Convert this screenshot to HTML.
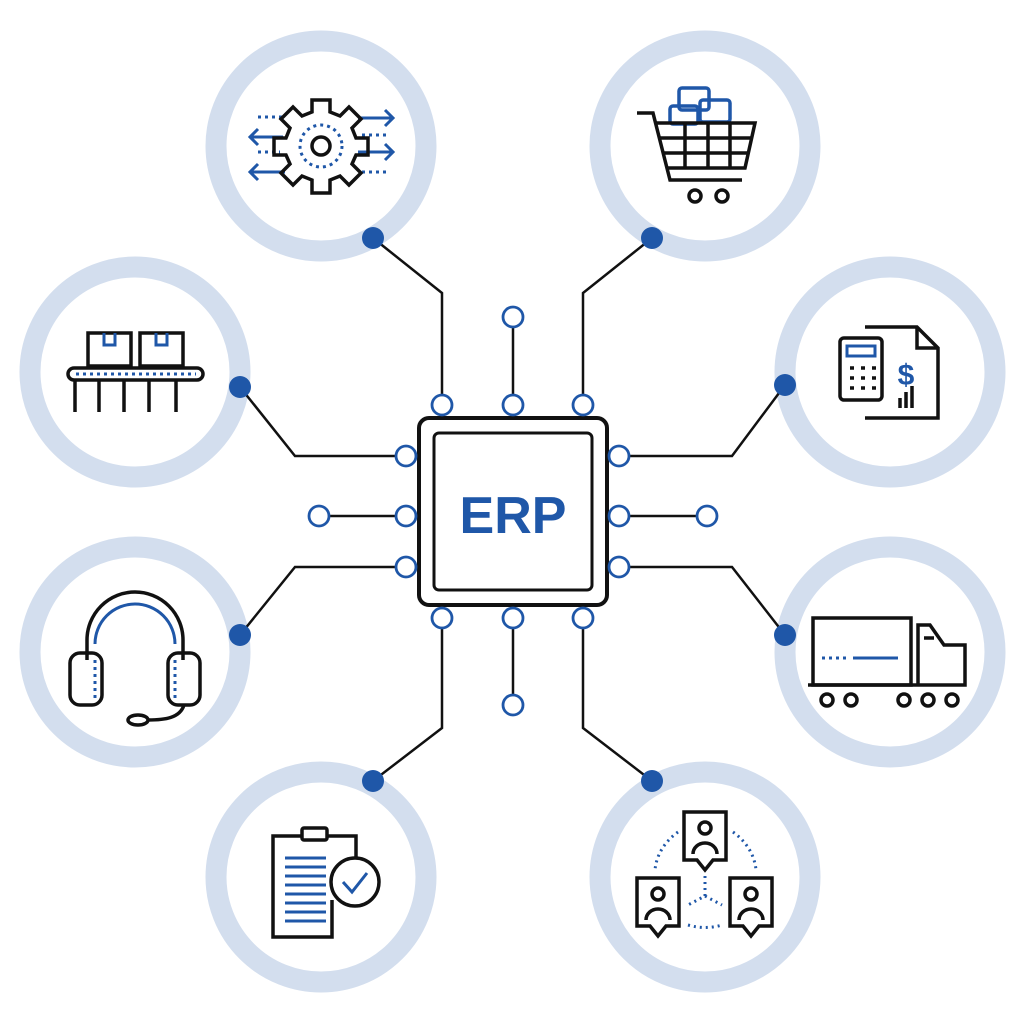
<!DOCTYPE html>
<html><head><meta charset="utf-8"><style>html,body{margin:0;padding:0;background:#fff}svg{display:block}</style></head>
<body>
<svg width="1024" height="1024" viewBox="0 0 1024 1024" xmlns="http://www.w3.org/2000/svg">
<g fill="none" stroke="#d3deee" stroke-width="21">
<circle cx="321" cy="146" r="105"/><circle cx="705" cy="146" r="105"/>
<circle cx="135" cy="372" r="105"/><circle cx="890" cy="372" r="105"/>
<circle cx="135" cy="652" r="105"/><circle cx="890" cy="652" r="105"/>
<circle cx="321" cy="877" r="105"/><circle cx="705" cy="877" r="105"/>
</g>
<g fill="none" stroke="#111" stroke-width="2.5">
<polyline points="442,405 442,293 373,238"/><polyline points="583,405 583,293 652,238"/>
<polyline points="406,456 295,456 240,387"/><polyline points="406,567 295,567 240,635"/>
<polyline points="619,456 732,456 785,385"/><polyline points="619,567 732,567 785,635"/>
<polyline points="442,618 442,728 373,781"/><polyline points="583,618 583,728 652,781"/>
<line x1="513" y1="317" x2="513" y2="405"/><line x1="513" y1="618" x2="513" y2="705"/>
<line x1="319" y1="516" x2="406" y2="516"/><line x1="619" y1="516" x2="707" y2="516"/>
</g>
<g fill="#1f57a8">
<circle cx="373" cy="238" r="11"/><circle cx="652" cy="238" r="11"/>
<circle cx="240" cy="387" r="11"/><circle cx="240" cy="635" r="11"/>
<circle cx="785" cy="385" r="11"/><circle cx="785" cy="635" r="11"/>
<circle cx="373" cy="781" r="11"/><circle cx="652" cy="781" r="11"/>
</g>
<rect x="419" y="418" width="188" height="187" rx="10" fill="#fff" stroke="#111" stroke-width="4"/>
<rect x="434" y="433" width="158" height="157" rx="5" fill="#fff" stroke="#111" stroke-width="3"/>
<text x="513" y="533" text-anchor="middle" font-family="Liberation Sans, sans-serif" font-weight="bold" font-size="52" fill="#1f57a8">ERP</text>
<g fill="#fff" stroke="#1f57a8" stroke-width="2.8">
<circle cx="442" cy="405" r="10"/><circle cx="513" cy="405" r="10"/><circle cx="583" cy="405" r="10"/>
<circle cx="442" cy="618" r="10"/><circle cx="513" cy="618" r="10"/><circle cx="583" cy="618" r="10"/>
<circle cx="406" cy="456" r="10"/><circle cx="406" cy="516" r="10"/><circle cx="406" cy="567" r="10"/>
<circle cx="619" cy="456" r="10"/><circle cx="619" cy="516" r="10"/><circle cx="619" cy="567" r="10"/>
<circle cx="513" cy="317" r="10"/><circle cx="513" cy="705" r="10"/>
<circle cx="319" cy="516" r="10"/><circle cx="707" cy="516" r="10"/>
</g>
<!-- gear -->
<g stroke="#1f57a8" stroke-width="3" fill="none">
<path d="M250,137 H283 M258,129 L250,137 L258,145"/><path d="M250,172 H285 M258,164 L250,172 L258,180"/>
<path d="M358,118 H393 M385,110 L393,118 L385,126"/><path d="M358,152 H393 M385,144 L393,152 L385,160"/>
<path d="M258,117 H282 M258,152 H280 M362,135 H390 M362,172 H390" stroke-dasharray="3,4"/>
<circle cx="321" cy="146" r="21" stroke-dasharray="3,4"/>
</g>
<g stroke="#111" stroke-width="3.5" fill="#fff" fill-opacity="0">
<path d="M312,100 H330 V112 L340,116 L349,107 L361,119 L352,128 L356,138 H368 V155 H356 L352,164 L361,173 L349,185 L340,176 L330,180 V193 H312 V180 L302,176 L293,185 L281,173 L290,164 L286,155 H274 V138 H286 L290,128 L281,119 L293,107 L302,116 L312,112 Z"/>
<circle cx="321" cy="146" r="9"/>
</g>
<!-- cart -->
<g fill="none" stroke="#1f57a8" stroke-width="3.5">
<rect x="679" y="88" width="30" height="22" rx="3"/><rect x="700" y="100" width="30" height="22" rx="3"/><rect x="670" y="106" width="28" height="18" rx="3"/>
</g>
<g fill="none" stroke="#111" stroke-width="3.5">
<path d="M637,113 H653 L670,180 H742"/><path d="M656,123 H755 L745,168 H667"/>
<path d="M660,138 H752 M663,153 H749 M685,123 V168 M708,123 V168 M730,123 V168"/>
<circle cx="695" cy="196" r="6"/><circle cx="722" cy="196" r="6"/>
</g>
<!-- conveyor -->
<g fill="none" stroke="#111" stroke-width="3.5">
<rect x="88" y="333" width="43" height="33"/><rect x="140" y="333" width="43" height="33"/>
<rect x="68" y="368" width="135" height="12" rx="6"/>
<path d="M75,380 V412 M99,380 V412 M124,380 V412 M149,380 V412 M176,380 V412"/>
</g>
<g fill="none" stroke="#1f57a8" stroke-width="3"><path d="M104,333 V345 H115 V333 M156,333 V345 H167 V333"/><path d="M76,374 H196" stroke-dasharray="3,4"/></g>
<!-- invoice -->
<g fill="none" stroke="#111" stroke-width="3.5">
<path d="M865,327 H917 L938,348 V418 H865"/><path d="M917,327 V348 H938"/>
<rect x="840" y="338" width="42" height="62" rx="4"/>
<path d="M850,368h4M861,368h4M872,368h4M850,378h4M861,378h4M872,378h4M850,388h4M861,388h4M872,388h4"/>
<path d="M900,408V398M906,408V392M912,408V386"/>
</g>
<rect x="847" y="346" width="28" height="10" fill="none" stroke="#1f57a8" stroke-width="3"/>
<text x="906" y="385" text-anchor="middle" font-family="Liberation Sans, sans-serif" font-weight="bold" font-size="30" fill="#1f57a8">$</text>
<!-- headset -->
<g fill="none" stroke="#111" stroke-width="3.5">
<path d="M87,660 V640 A48,48 0 0 1 183,640 V660"/>
<rect x="70" y="653" width="32" height="52" rx="10"/><rect x="168" y="653" width="32" height="52" rx="10"/>
<path d="M184,705 C180,718 165,720 148,720"/><ellipse cx="138" cy="720" rx="10" ry="5"/>
</g>
<g fill="none" stroke="#1f57a8" stroke-width="3"><path d="M95,644 A40,40 0 0 1 175,644"/><path d="M95,660 V700 M175,660 V700" stroke-dasharray="3,4"/></g>
<!-- truck -->
<g fill="none" stroke="#111" stroke-width="3.5">
<rect x="813" y="618" width="98" height="67"/><path d="M918,685 V625 H930 L944,645 H965 V685 H808"/><path d="M924,638 H934"/>
<circle cx="827" cy="700" r="6"/><circle cx="851" cy="700" r="6"/><circle cx="904" cy="700" r="6"/><circle cx="928" cy="700" r="6"/><circle cx="952" cy="700" r="6"/>
</g>
<g stroke="#1f57a8" stroke-width="3"><path d="M822,658 H848" stroke-dasharray="3,4"/><path d="M853,658 H898"/></g>
<!-- clipboard -->
<g fill="none" stroke="#111" stroke-width="3.5">
<path d="M332,900 V937 H273 V836 H356 V858"/><rect x="302" y="828" width="25" height="12" rx="2" fill="#fff"/>
<circle cx="355" cy="882" r="24"/>
</g>
<g stroke="#1f57a8" stroke-width="3" fill="none">
<path d="M285,858h41M285,867h41M285,876h41M285,885h41M285,894h41M285,903h41M285,912h41M285,921h41"/>
<path d="M343,882 L352,892 L367,873"/>
</g>
<!-- people -->
<g fill="none" stroke="#1f57a8" stroke-width="3" stroke-dasharray="2,4">
<path d="M678,832 A65,55 0 0 0 655,870"/><path d="M733,832 A65,55 0 0 1 756,870"/>
<path d="M705,876 V896 L688,905 M705,896 L722,905"/><path d="M688,925 Q705,930 722,925"/>
</g>
<g fill="#fff" stroke="#111" stroke-width="3.5">
<path d="M684,812 H726 V860 H713 L705,870 L697,860 H684 Z"/><circle cx="705" cy="828" r="6"/><path d="M693,854 A12,11 0 0 1 717,854"/>
<path d="M637,878 H679 V926 H666 L658,936 L650,926 H637 Z"/><circle cx="658" cy="894" r="6"/><path d="M646,920 A12,11 0 0 1 670,920"/>
<path d="M730,878 H772 V926 H759 L751,936 L743,926 H730 Z"/><circle cx="751" cy="894" r="6"/><path d="M739,920 A12,11 0 0 1 763,920"/>
</g>
</svg>
</body></html>
